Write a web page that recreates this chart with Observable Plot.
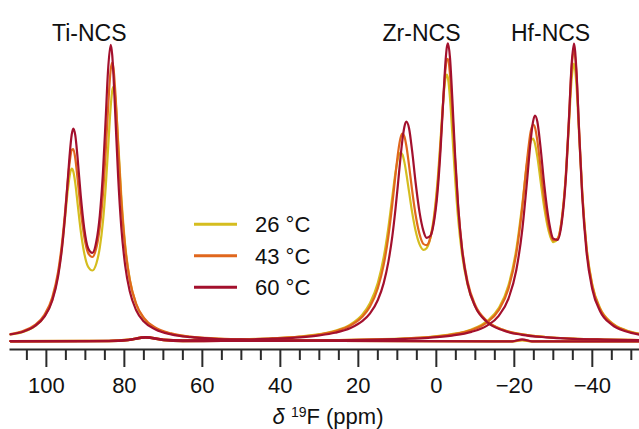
<!DOCTYPE html>
<html><head><meta charset="utf-8">
<script src="https://cdn.jsdelivr.net/npm/d3@7"></script>
<script src="https://cdn.jsdelivr.net/npm/@observablehq/plot@0.6"></script>
<style>
body{margin:0;background:#fff;}
#chart{width:639px;height:429px;}
</style></head><body><div id="chart"></div>
<script>
const temps = ["26 °C", "43 °C", "60 °C"];
const tempColors = ["#d5bd1f", "#e0671d", "#a3102d"];
const compounds = ["Ti-NCS", "Zr-NCS", "Hf-NCS"];
const compoundLabelPpm = [89, 3.8, -29.3];
const xTicks = [100, 80, 60, 40, 20, 0, -20, -40];
const xMinorTicks = [105, 95, 90, 85, 75, 70, 65, 55, 50, 45, 35, 30, 25, 15, 10, 5, -5, -10, -15, -25, -30, -35, -45, -50];

// Ti-NCS spectra (ppm, intensity)
const tiPpm = [109.2, 106, 103, 100.5, 98.5, 97, 96, 95.2, 94.5, 94, 93.5, 93.1, 92.6, 92, 91.2, 90.3, 89.3, 88.2, 87.2, 86.3, 85.5, 84.8, 84.2, 83.5, 83.1, 82.8, 82.3, 81.6, 80.8, 79.8, 78.6, 77, 75, 72, 68, 63, 57, 50, 40, 25, 5, -15, -19.5, -22, -24.5, -30, -52.1];
const tiI26 = [7.0, 9.6, 15.2, 25.1, 41.7, 66.7, 94.4, 124.1, 151.6, 166.5, 172.8, 170.1, 158.6, 138.2, 111.0, 88.5, 74.7, 71.0, 77.8, 93.9, 119.6, 153.7, 191.4, 235.2, 251.1, 254.7, 242.8, 200.5, 146.5, 96.8, 61.7, 37.5, 23.0, 13.1, 7.6, 4.5, 2.8, 1.8, 1.1, 0.6, 0.3, 0.2, 0.2, 1.2, 0.2, 0.1, 0];
const tiI43 = [7.5, 10.5, 16.4, 26.8, 44.0, 69.6, 98.2, 129.7, 160.7, 180.1, 191.5, 192.4, 183.5, 162.8, 132.0, 105.2, 88.6, 84.5, 93.4, 114.2, 147.1, 189.2, 231.9, 271.9, 278.8, 273.7, 248.4, 196.5, 141.5, 94.2, 61.2, 38.0, 23.7, 13.9, 8.1, 4.9, 3.1, 2.0, 1.2, 0.7, 0.35, 0.2, 0.2, 1.5, 0.2, 0.1, 0];
const tiI60 = [7.2, 9.7, 15.3, 24.8, 40.8, 65.0, 93.1, 126.1, 162.2, 187.9, 207.0, 213.0, 206.6, 183.8, 146.4, 113.4, 93.3, 88.6, 99.7, 126.0, 168.4, 221.9, 270.2, 296.7, 285.9, 266.7, 224.3, 165.1, 114.9, 76.1, 49.9, 31.5, 20.0, 12.0, 7.1, 4.3, 2.7, 1.8, 1.1, 0.6, 0.3, 0.2, 0.2, 2.2, 0.2, 0.1, 0];

// Zr-NCS spectra
const zrPpm = [109.2, 90, 84, 79, 74.5, 70, 65, 58, 50, 42, 35, 30, 26, 22, 19, 17, 15, 13.5, 12.3, 11.3, 10.5, 9.8, 9.2, 8.7, 8.2, 7.7, 7.0, 6.2, 5.3, 4.3, 3.3, 2.5, 1.5, 0.6, -0.3, -1.1, -1.8, -2.4, -2.7, -3.0, -3.5, -4.1, -4.8, -5.6, -6.6, -8, -10, -13, -17, -22, -28, -35, -43, -52.1];
const zrI26 = [0.4, 0.6, 0.7, 1.8, 4.4, 2.0, 1.2, 1.5, 2.1, 3.2, 5.0, 7.3, 10.7, 17.1, 26.8, 38.4, 58.6, 84.2, 113.9, 144.4, 168.4, 183.7, 189.0, 187.0, 179.6, 168.3, 149.8, 129.1, 110.4, 97.1, 91.7, 93.3, 104.2, 125.0, 159.8, 203.0, 242.7, 264.5, 267.0, 263.0, 243.5, 207.7, 163.9, 122.7, 86.8, 56.9, 34.9, 20.1, 11.7, 7.1, 4.5, 2.9, 2.0, 1.4];
const zrI43 = [0.4, 0.6, 0.7, 1.8, 4.4, 2.0, 1.2, 1.5, 2.1, 3.1, 4.8, 7.0, 10.1, 16.0, 24.7, 35.1, 53.4, 76.6, 105.0, 136.8, 165.8, 189.2, 203.2, 207.8, 205.2, 196.0, 176.2, 150.9, 126.2, 107.2, 97.5, 96.3, 104.1, 122.2, 154.8, 198.5, 243.5, 274.4, 282.1, 282.6, 267.2, 230.6, 181.6, 134.5, 93.7, 60.2, 36.3, 20.6, 11.9, 7.1, 4.5, 2.9, 2.0, 1.4];
const zrI60 = [0.4, 0.5, 0.6, 1.7, 4.3, 1.9, 1.1, 1.3, 1.9, 2.8, 4.2, 6.1, 8.7, 13.5, 20.3, 28.1, 41.5, 58.4, 79.6, 104.9, 131.7, 159.0, 183.5, 201.6, 214.6, 220.0, 213.3, 190.3, 158.5, 129.1, 110.4, 103.7, 105.8, 119.7, 149.1, 192.9, 242.9, 282.3, 294.3, 298.1, 283.9, 242.9, 187.3, 135.2, 92.0, 58.0, 34.6, 19.5, 11.2, 6.7, 4.2, 2.7, 1.9, 1.3];

// Hf-NCS spectra
const hfPpm = [109.2, 90, 84, 79, 74.5, 70, 65, 55, 45, 35, 25, 15, 8, 2, -4, -9, -13, -16, -18.5, -20.5, -22, -23.2, -24.2, -24.8, -25.3, -25.9, -26.7, -27.7, -28.8, -30, -31.1, -32.2, -33.2, -34, -34.7, -35.3, -35.9, -36.6, -37.4, -38.5, -40, -42, -45, -48.5, -52.1];
const hfI26 = [0.2, 0.3, 0.3, 1.3, 3.9, 1.4, 0.45, 0.6, 0.7, 1.0, 1.4, 2.2, 3.1, 4.5, 7.3, 12.1, 20.3, 33.4, 56.1, 92.0, 135.8, 176.7, 200.1, 202.8, 197.8, 184.8, 161.5, 133.1, 110.6, 99.4, 102.5, 123.1, 164.8, 216.6, 262.4, 278.0, 258.2, 207.5, 149.6, 95.3, 56.8, 33.4, 18.7, 11.5, 7.7];
const hfI43 = [0.2, 0.3, 0.3, 1.3, 3.9, 1.4, 0.4, 0.55, 0.7, 0.95, 1.35, 2.1, 3.0, 4.3, 6.9, 11.4, 19.1, 31.4, 52.9, 87.7, 132.6, 178.8, 210.1, 217.0, 214.0, 200.9, 174.9, 141.8, 115.3, 101.2, 103.0, 123.1, 166.3, 222.3, 273.9, 292.1, 269.6, 212.9, 150.5, 94.4, 55.6, 32.5, 18.2, 11.1, 7.5];
const hfI60 = [0.2, 0.2, 0.3, 1.3, 3.8, 1.3, 0.4, 0.5, 0.6, 0.8, 1.2, 1.8, 2.6, 3.7, 5.9, 9.6, 15.9, 25.7, 42.9, 71.2, 110.5, 157.9, 201.2, 219.9, 226.0, 220.0, 195.0, 155.8, 122.0, 102.9, 101.6, 119.9, 162.5, 221.1, 277.4, 298.0, 273.0, 211.4, 146.3, 90.1, 52.3, 30.3, 16.8, 10.2, 6.9];

const spectra = [
  {compound: compounds[0], ppm: tiPpm, series: [tiI26, tiI43, tiI60]},
  {compound: compounds[1], ppm: zrPpm, series: [zrI26, zrI43, zrI60]},
  {compound: compounds[2], ppm: hfPpm, series: [hfI26, hfI43, hfI60]}
];
const rows = [];
temps.forEach((t, ti) => spectra.forEach(s => s.ppm.forEach((p, k) => {
  rows.push({ppm: p, I: s.series[ti][k], temp: t, series: s.compound + " " + t});
})));
const labels = compounds.map((c, i) => ({name: c, ppm: compoundLabelPpm[i]}));

const font = "'Liberation Sans', Arial, Helvetica, sans-serif";
const svg = Plot.plot({
  width: 639, height: 429,
  marginLeft: 10, marginRight: 0, marginTop: 43, marginBottom: 80,
  style: {fontFamily: font, background: "#fff", color: "#111", overflow: "visible"},
  x: {domain: [109.2, -52.1], label: null},
  y: {domain: [-8, 298], axis: null},
  color: {domain: temps, range: tempColors},
  marks: [
    Plot.frame({anchor: "bottom", stroke: "#2a2a2a", strokeWidth: 2}),
    Plot.axisX({ticks: xMinorTicks, tickSize: 11, tickFormat: () => "", stroke: "#2a2a2a", strokeWidth: 2, label: null}),
    Plot.axisX({ticks: xTicks, tickSize: 18, tickPadding: 10, tickFormat: d3.format("d"), fontSize: 22, stroke: "#2a2a2a", strokeWidth: 2, fill: "#111", label: null}),
    Plot.line(rows, {x: "ppm", y: "I", z: "series", stroke: "temp", strokeWidth: 2.2, curve: "monotone-x"}),
    Plot.text(labels, {x: "ppm", text: "name", frameAnchor: "top", dy: -19, fontSize: 23, fill: "#111"})
  ]
});

const s = d3.select(svg);
// axis title
const t = s.append("text").attr("x", 328).attr("y", 424).attr("text-anchor", "middle")
  .attr("font-size", 22).attr("fill", "#111").attr("font-family", font);
t.append("tspan").attr("font-style", "italic").text("δ");
t.append("tspan").text(" ");
t.append("tspan").attr("font-size", 14).attr("dy", -7).text("19");
t.append("tspan").attr("dy", 7).text("F (ppm)");

// legend
const lg = s.append("g").attr("font-family", font).attr("font-size", 22).attr("fill", "#111").attr("text-anchor", "start");
temps.forEach((tp, i) => {
  const y = 224.3 + i * 31.5;
  lg.append("line").attr("x1", 194).attr("x2", 237).attr("y1", y).attr("y2", y)
    .attr("stroke", tempColors[i]).attr("stroke-width", 3);
  lg.append("text").attr("x", 255).attr("y", y).attr("dy", "0.36em").attr("text-anchor", "start").text(tp);
});

document.getElementById("chart").appendChild(svg);
</script></body></html>
